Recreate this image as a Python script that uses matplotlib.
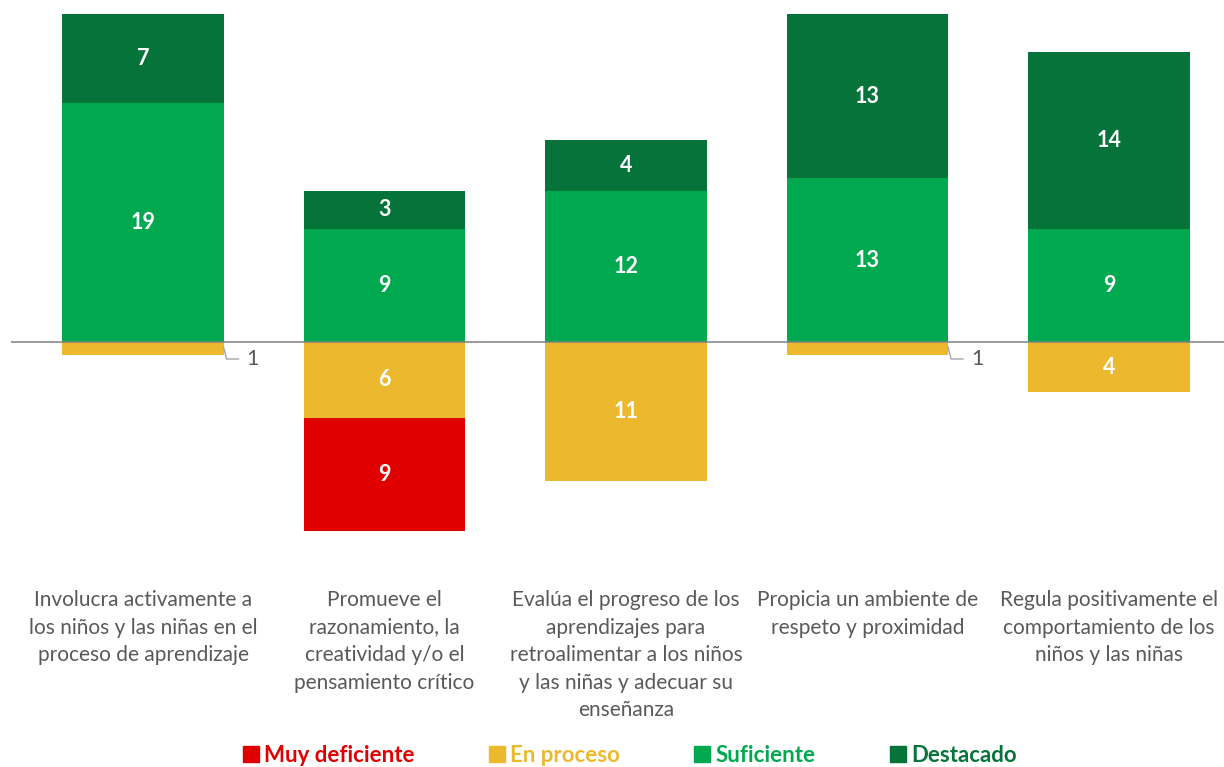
import numpy as np
import matplotlib.pyplot as plt

plt.rcParams['font.family'] = ['Lato', 'DejaVu Sans']

categorias = [
    "Involucra activamente a\nlos niños y las niñas en el\nproceso de aprendizaje",
    "Promueve el\nrazonamiento, la\ncreatividad y/o el\npensamiento crítico",
    "Evalúa el progreso de los\naprendizajes para\nretroalimentar a los niños\ny las niñas y adecuar su\nenseñanza",
    "Propicia un ambiente de\nrespeto y proximidad",
    "Regula positivamente el\ncomportamiento de los\nniños y las niñas",
]
muy_deficiente = [0, 9, 0, 0, 0]
en_proceso = [1, 6, 11, 1, 4]
suficiente = [19, 9, 12, 13, 9]
destacado = [7, 3, 4, 13, 14]

nombres = ["Muy deficiente", "En proceso", "Suficiente", "Destacado"]
colores = ["#E00000", "#EBB82E", "#00A84F", "#06733A"]

fig = plt.figure(figsize=(12.24, 7.67), dpi=100)
ax = fig.add_axes([11 / 1224, 0, 1 - 11 / 1224, 1])
px = 1 / 241.5  # unidades de datos por pixel (x)
ax.set_xlim(-132 * px, 4 + 115 * px)
ax.set_ylim(-(767 - 342) / 12.6, 342 / 12.6)
ax.axis("off")

x = np.arange(len(categorias))
ancho = 0.667

en_proceso_neg = -np.array(en_proceso)
muy_def_neg = -np.array(muy_deficiente)
series = [
    (muy_def_neg, en_proceso_neg, colores[0]),
    (en_proceso_neg, np.zeros(5), colores[1]),
    (np.array(suficiente), np.zeros(5), colores[2]),
    (np.array(destacado), np.array(suficiente), colores[3]),
]

for vals, base, color in series:
    ax.bar(x, vals, ancho, bottom=base, color=color, zorder=2)
    for i, v in enumerate(vals):
        if v == 0:
            continue
        if abs(v) >= 2:
            ax.text(x[i], base[i] + v / 2, str(abs(v)), ha="center", va="center",
                    color="white", fontsize=15.5, fontweight="bold", zorder=4)
        else:
            # etiqueta fuera de la barra con linea guia
            xe = x[i] + ancho / 2
            ax.plot([xe, xe + 3 * px, xe + 15 * px], [base[i] - 0.4, -1.35, -1.35],
                    color="#A6A6A6", lw=1.0, zorder=4)
            ax.text(xe + 23 * px, -1.35, str(abs(v)), ha="left", va="center",
                    color="#595959", fontsize=15.5, zorder=4)

ax.axhline(0, color="#808080", lw=1.1, zorder=3)

for i, cat in enumerate(categorias):
    ax.text(x[i], (342 - 590) / 12.6, cat, ha="center", va="top",
            color="#595959", fontsize=15, linespacing=1.47)

handles = [plt.Line2D([], [], marker="s", linestyle="none", markersize=11,
                      markerfacecolor=c, markeredgecolor=c) for c in colores]
fig.legend(handles, nombres, loc="center", bbox_to_anchor=(628 / 1224, 1 - 755 / 767),
           ncol=4, frameon=False, labelcolor="markerfacecolor", handletextpad=0.1,
           columnspacing=3.2, handlelength=1.0,
           prop={"size": 16, "weight": "bold"})

fig.savefig("out.png", dpi=100)
